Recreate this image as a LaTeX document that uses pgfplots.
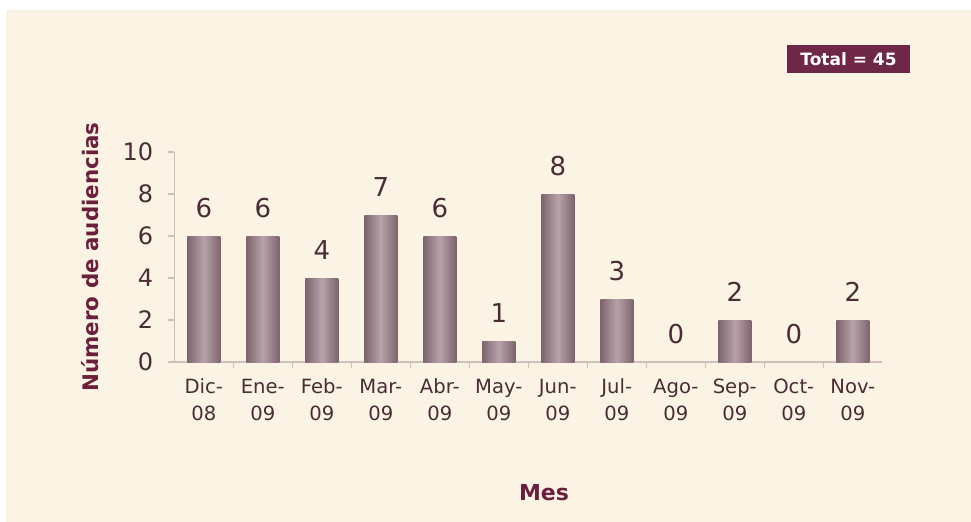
\documentclass[border=0pt]{standalone}
\usepackage{fontspec}
\setmainfont{DejaVu Sans}
\usepackage{pgfplots}
\pgfplotsset{compat=1.18}
\definecolor{bgpanel}{HTML}{FBF3E4}
\definecolor{txt}{HTML}{4A2C35}
\definecolor{lab}{HTML}{6B1F3D}
\definecolor{boxc}{HTML}{6E2746}
\definecolor{bardark}{HTML}{7E636D}
\definecolor{barlight}{HTML}{B7A3AA}
\definecolor{axisc}{HTML}{CBC3BB}
\begin{document}
\begin{tikzpicture}
\path[use as bounding box] (0,0) rectangle (485.5pt,260.5pt);
\fill[bgpanel] (3pt,-2pt) rectangle (488pt,255.5pt);
\begin{axis}[
  at={(87.15pt,79.5pt)}, anchor=south west,
  scale only axis, width=354pt, height=105pt,
  xmin=-0.5, xmax=11.5, ymin=0, ymax=10,
  ytick={0,2,...,10},
  xtick={0,...,11},
  xticklabels={{Dic-\\08},{Ene-\\09},{Feb-\\09},{Mar-\\09},{Abr-\\09},{May-\\09},{Jun-\\09},{Jul-\\09},{Ago-\\09},{Sep-\\09},{Oct-\\09},{Nov-\\09}},
  xticklabel style={align=center, font=\fontsize{9.8}{13.5}\selectfont, text=txt, yshift=-2pt},
  yticklabel style={font=\fontsize{12}{14}\selectfont, text=txt, xshift=-4pt},
  /pgf/number format/assume math mode=true,
  minor x tick num=1,
  major x tick style={draw=none},
  axis x line*=bottom, axis y line*=left,
  axis line style={draw=axisc, line width=0.6pt, -},
  tick style={draw=axisc, line width=0.6pt},
  tick align=outside,
  major tick length=3pt, minor tick length=3pt,
  ybar, bar width=16.5pt, bar shift=0pt,
  barstyle/.style={draw=none, left color=bardark, right color=bardark, middle color=barlight},
]
\addplot[barstyle] coordinates {(0,6)};
\addplot[barstyle] coordinates {(1,6)};
\addplot[barstyle] coordinates {(2,4)};
\addplot[barstyle] coordinates {(3,7)};
\addplot[barstyle] coordinates {(4,6)};
\addplot[barstyle] coordinates {(5,1)};
\addplot[barstyle] coordinates {(6,8)};
\addplot[barstyle] coordinates {(7,3)};
\addplot[barstyle] coordinates {(9,2)};
\addplot[barstyle] coordinates {(11,2)};
\addplot[draw=none, fill=none, nodes near coords,
  every node near coord/.append style={anchor=base, yshift=9.5pt, text=txt, font=\fontsize{13}{15}\selectfont}]
  coordinates {(0,6) (1,6) (2,4) (3,7) (4,6) (5,1) (6,8) (7,3) (8,0) (9,2) (10,0) (11,2)};
\end{axis}
\node[rotate=90, font=\fontsize{10.7}{13}\selectfont\bfseries, text=lab] at (45pt,132pt) {Número de audiencias};
\node[font=\fontsize{11}{13}\selectfont\bfseries, text=lab] at (272pt,14pt) {Mes};
\node[fill=boxc, minimum width=61.5pt, minimum height=14pt, inner sep=0pt, text=white, font=\fontsize{8.5}{10}\selectfont\bfseries] at (424.25pt,231pt) {Total = 45};
\end{tikzpicture}
\end{document}
